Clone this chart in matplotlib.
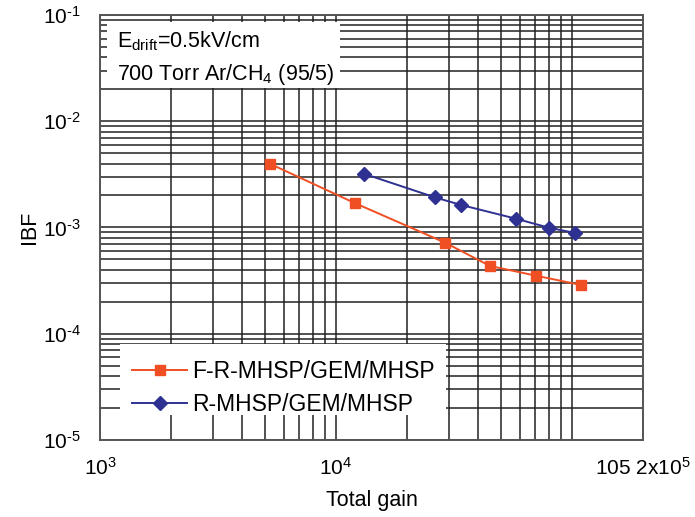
import matplotlib
matplotlib.use('Agg')
import matplotlib.pyplot as plt
from matplotlib.patches import Rectangle
from matplotlib.ticker import FixedLocator, LogLocator, NullFormatter

plt.rcParams['font.family'] = ['Liberation Sans', 'DejaVu Sans']
plt.rcParams['mathtext.fontset'] = 'custom'
plt.rcParams['mathtext.rm'] = 'Liberation Sans'
plt.rcParams['mathtext.it'] = 'Liberation Sans'
plt.rcParams['mathtext.bf'] = 'Liberation Sans'

# data
frmhsp_gain = [5270, 12000, 29000, 45000, 70400, 109000]
frmhsp_ibf = [3.96e-3, 1.70e-3, 7.2e-4, 4.34e-4, 3.52e-4, 2.88e-4]
rmhsp_gain = [13100, 26300, 33900, 57900, 79900, 103300]
rmhsp_ibf = [3.21e-3, 1.92e-3, 1.63e-3, 1.21e-3, 9.95e-4, 8.88e-4]

xtick_pos = [1e3, 1e4, 2e5]
xtick_lbl = ['$10^{3}$', '$10^{4}$', '105 2x$10^{5}$']
ytick_pos = [1e-5, 1e-4, 1e-3, 1e-2, 1e-1]
ytick_lbl = [r'$10^{\text{-5}}$', r'$10^{\text{-4}}$', r'$10^{\text{-3}}$',
             r'$10^{\text{-2}}$', r'$10^{\text{-1}}$']

fig = plt.figure(figsize=(6.95, 5.17), dpi=100)
ax = fig.add_axes([0.144, 0.149, 0.781, 0.822])

ax.set_xscale('log')
ax.set_yscale('log')
ax.set_xlim(1e3, 2e5)
ax.set_ylim(1e-5, 1e-1)

ax.xaxis.set_major_locator(FixedLocator(xtick_pos))
ax.set_xticklabels(xtick_lbl)
ax.yaxis.set_major_locator(FixedLocator(ytick_pos))
ax.set_yticklabels(ytick_lbl)
ax.xaxis.set_minor_locator(LogLocator(base=10, subs=range(1, 10), numticks=20))
ax.yaxis.set_minor_locator(LogLocator(base=10, subs=range(1, 10), numticks=20))
ax.xaxis.set_minor_formatter(NullFormatter())
ax.yaxis.set_minor_formatter(NullFormatter())

ax.grid(True, which='both', color='#222222', linewidth=1.1)
ax.tick_params(which='both', length=0, labelsize=15)
ax.tick_params(axis='x', pad=12)
ax.tick_params(axis='y', pad=14)
for s in ax.spines.values():
    s.set_color('#555555')
    s.set_linewidth(1.4)

ax.plot(frmhsp_gain, frmhsp_ibf, color='#F04E23', lw=1.4, marker='s',
        ms=7, label='F-R-MHSP/GEM/MHSP', zorder=5)
ax.plot(rmhsp_gain, rmhsp_ibf, color='#2E3192', lw=1.4, marker='D',
        ms=7, label='R-MHSP/GEM/MHSP', zorder=5)

# white boxes over the grid
ax.add_patch(Rectangle((0.013, 0.828), 0.429, 0.156, transform=ax.transAxes,
                       facecolor='white', edgecolor='none', zorder=3))
ax.add_patch(Rectangle((0.037, 0.059), 0.6, 0.167, transform=ax.transAxes,
                       facecolor='white', edgecolor='none', zorder=3))

ax.text(0.031, 0.938, 'E$_{drift}$=0.5kV/cm', transform=ax.transAxes,
        fontsize=15.5, va='center', zorder=6)
ax.text(0.031, 0.860, '700 Torr Ar/CH$_{4}$ (95/5)', transform=ax.transAxes,
        fontsize=15.5, va='center', zorder=6)

leg = ax.legend(loc='upper left', bbox_to_anchor=(0.059, 0.187), frameon=False,
                fontsize=16.5, handlelength=2.4, handletextpad=0.2,
                borderaxespad=0, borderpad=0, labelspacing=0.4, numpoints=1)
leg.set_zorder(6)

ax.set_xlabel('Total gain', fontsize=15.5, labelpad=8)
ax.set_ylabel('IBF', fontsize=15.5, labelpad=2)

fig.savefig('out.png', dpi=100)
